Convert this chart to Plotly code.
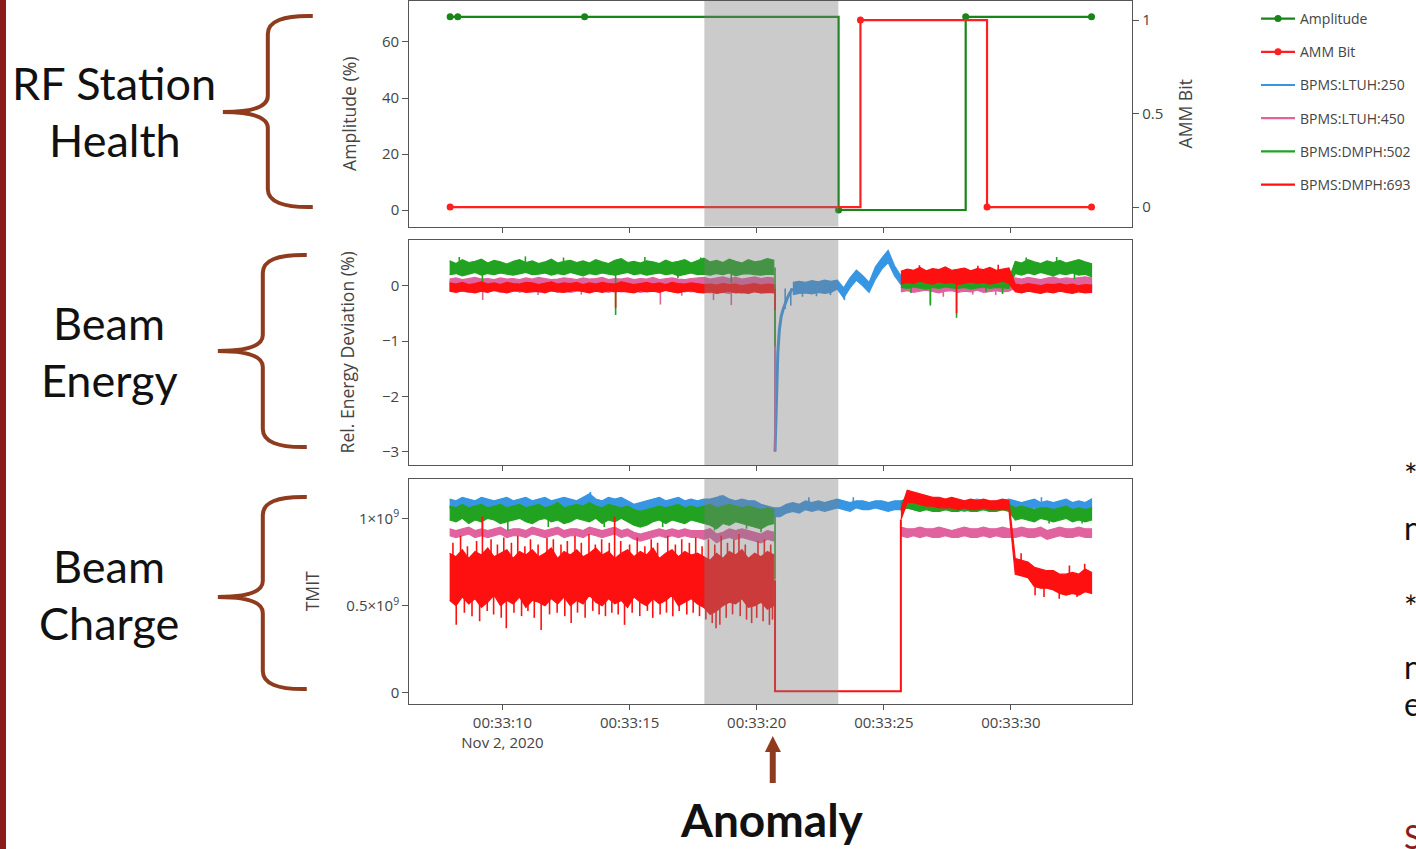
import plotly.graph_objects as go

W, H = 1416, 849

# ---------------------------------------------------------------
# Data: seconds after 2020-11-02 00:33:00
# ---------------------------------------------------------------
DAY = "2020-11-02 00:33:"

# RF station (step signals)
amp_t = [7.94, 8.24, 13.23, 23.22, 28.22, 33.17]
amp_v = [69, 69, 69, 0, 69, 69]          # Amplitude (%)
amm_t = [7.94, 24.08, 29.06, 33.17]
amm_v = [0, 1, 0, 0]                     # AMM bit

# BPM sample grid (0.25 s bins, min/max per bin)
t_grid = [round(7.92 + 0.25 * i, 2) for i in range(102)]
GAP19 = [None] * 19   # beam lost 20.92 s .. 25.42 s

# ---- relative energy deviation (%) ----
e250_lo = ([-0.08, -0.10, -0.07, -0.09, -0.11, -0.08, -0.10, -0.07, -0.09, -0.10,
            -0.08, -0.11, -0.09, -0.07, -0.10, -0.08, -0.09, -0.11, -0.08, -0.10,
            -0.07, -0.09, -0.10, -0.08, -0.11, -0.09, -0.07, -0.10, -0.08, -0.09,
            -0.11, -0.08, -0.10, -0.07, -0.09, -0.10, -0.08, -0.11, -0.09, -0.08,
            -0.10, -0.12, -0.09, -0.11, -0.13, -0.10, -0.12, -0.11, -0.09, -0.12, -0.11, -0.10]
           + [None, None]
           + [-0.16, -0.14, -0.13, -0.15, -0.12, -0.14, -0.12, -0.06, -0.22, -0.04,
              0.10, 0.00, -0.12, 0.12, 0.30, 0.42, 0.18]
           + [0.02, -0.02, 0.00, -0.03, -0.01, 0.01, -0.02, 0.00, -0.03, -0.01,
              0.01, -0.02, 0.00, -0.01, -0.03, 0.00, -0.02, -0.01]
           + [-0.08, -0.10, -0.07, -0.09, -0.11, -0.08, -0.10, -0.07, -0.09, -0.10,
              -0.08, -0.09, -0.10])
e250_hi = ([0.08, 0.10, 0.07, 0.09, 0.11, 0.08, 0.10, 0.09, 0.07, 0.10,
            0.09, 0.08, 0.11, 0.09, 0.07, 0.10, 0.08, 0.09, 0.11, 0.08,
            0.10, 0.07, 0.09, 0.10, 0.08, 0.11, 0.09, 0.07, 0.10, 0.08,
            0.09, 0.11, 0.08, 0.10, 0.07, 0.09, 0.10, 0.08, 0.11, 0.09,
            0.08, 0.10, 0.07, 0.09, 0.08, 0.10, 0.07, 0.09, 0.08, 0.06, 0.08, 0.07]
           + [None, None]
           + [0.06, 0.08, 0.06, 0.09, 0.07, 0.10, 0.08, 0.10, -0.04, 0.14,
              0.28, 0.18, 0.06, 0.34, 0.50, 0.64, 0.36]
           + [0.18, 0.14, 0.16, 0.13, 0.15, 0.17, 0.14, 0.16, 0.13, 0.15,
              0.17, 0.14, 0.16, 0.15, 0.13, 0.16, 0.14, 0.15]
           + [0.08, 0.10, 0.07, 0.09, 0.11, 0.08, 0.10, 0.09, 0.07, 0.10,
              0.09, 0.08, 0.07])
e250_spike_t = [20.72, 21.12, 21.34, 21.80, 22.35, 22.90, 23.45]
e250_spike_v = [-3.00, -0.42, -0.36, -0.20, -0.19, -0.17, -0.26]
# recovery of the upstream BPM right after the trip
e250_rec_t = [20.72, 20.75, 20.79, 20.83, 20.89, 20.96, 21.03, 21.09, 21.19, 21.29, 21.42]
e250_rec_v = [-3.00, -2.50, -1.83, -1.22, -0.80, -0.56, -0.44, -0.35, -0.24, -0.14, -0.05]

e450_lo = ([-0.09, -0.11, -0.10, -0.12, -0.08, -0.10, -0.11, -0.09, -0.12, -0.10,
            -0.08, -0.11, -0.10, -0.09, -0.12, -0.10, -0.08, -0.11, -0.09, -0.12,
            -0.10, -0.09, -0.11, -0.08, -0.10, -0.12, -0.09, -0.11, -0.10, -0.08,
            -0.12, -0.10, -0.09, -0.11, -0.08, -0.10, -0.12, -0.09, -0.11, -0.10,
            -0.11, -0.13, -0.10, -0.12, -0.14, -0.11, -0.13, -0.12, -0.10, -0.13, -0.12, -0.11]
           + GAP19
           + [-0.11, -0.09, -0.12, -0.10, -0.08, -0.11, -0.13, -0.10, -0.09, -0.12,
              -0.10, -0.11, -0.08, -0.12, -0.10, -0.09, -0.11, -0.10]
           + [-0.04, -0.06, -0.03, -0.05, -0.07, -0.04, -0.06, -0.03, -0.05, -0.04,
              -0.06, -0.03, -0.05])
e450_hi = ([0.12, 0.14, 0.11, 0.13, 0.15, 0.12, 0.13, 0.11, 0.14, 0.12,
            0.13, 0.11, 0.14, 0.12, 0.15, 0.13, 0.11, 0.12, 0.14, 0.13,
            0.11, 0.14, 0.12, 0.13, 0.15, 0.11, 0.13, 0.12, 0.14, 0.11,
            0.13, 0.12, 0.15, 0.11, 0.13, 0.14, 0.12, 0.11, 0.13, 0.14,
            0.15, 0.12, 0.14, 0.16, 0.13, 0.15, 0.12, 0.14, 0.16, 0.13, 0.15, 0.14]
           + GAP19
           + [0.10, 0.12, 0.09, 0.11, 0.13, 0.10, 0.12, 0.09, 0.11, 0.10,
              0.12, 0.09, 0.11, 0.13, 0.10, 0.12, 0.11, 0.09]
           + [0.14, 0.12, 0.15, 0.13, 0.11, 0.14, 0.16, 0.12, 0.14, 0.13,
              0.15, 0.16, 0.14])
e450_spike_t = [9.22, 11.40, 13.10, 16.21, 17.05, 18.30, 19.00, 20.72, 26.83, 27.34, 28.50, 29.40]
e450_spike_v = [-0.26, -0.17, -0.16, -0.34, -0.18, -0.26, -0.35, -3.00, -0.33, -0.20, -0.16, -0.17]

e502_lo = ([0.20, 0.22, 0.18, 0.21, 0.24, 0.19, 0.22, 0.20, 0.23, 0.21,
            0.19, 0.22, 0.24, 0.20, 0.21, 0.23, 0.19, 0.22, 0.20, 0.24,
            0.21, 0.18, 0.22, 0.20, 0.23, 0.21, 0.19, 0.22, 0.24, 0.20,
            0.22, 0.19, 0.21, 0.23, 0.20, 0.22, 0.18, 0.21, 0.23, 0.20,
            0.21, 0.19, 0.22, 0.20, 0.23, 0.18, 0.21, 0.22, 0.20, 0.19, 0.21, 0.20]
           + GAP19
           + [-0.03, -0.05, -0.02, -0.04, -0.06, -0.03, -0.05, -0.02, -0.04, -0.05,
              -0.03, -0.06, -0.04, -0.02, -0.05, -0.03, -0.04, -0.05]
           + [0.22, 0.19, 0.23, 0.20, 0.24, 0.21, 0.18, 0.22, 0.20, 0.23,
              0.19, 0.21, 0.16])
e502_hi = ([0.45, 0.40, 0.47, 0.42, 0.44, 0.48, 0.41, 0.46, 0.43, 0.39,
            0.44, 0.47, 0.42, 0.45, 0.40, 0.43, 0.48, 0.41, 0.44, 0.46,
            0.42, 0.45, 0.41, 0.47, 0.43, 0.40, 0.46, 0.49, 0.42, 0.44,
            0.41, 0.45, 0.43, 0.40, 0.46, 0.42, 0.44, 0.47, 0.41, 0.45,
            0.50, 0.43, 0.46, 0.42, 0.48, 0.44, 0.41, 0.47, 0.43, 0.45, 0.49, 0.46]
           + GAP19
           + [0.10, 0.12, 0.09, 0.13, 0.11, 0.08, 0.12, 0.10, 0.13, 0.09,
              0.11, 0.12, 0.10, 0.08, 0.12, 0.11, 0.09, 0.12]
           + [0.44, 0.41, 0.47, 0.43, 0.40, 0.45, 0.42, 0.46, 0.41, 0.44,
              0.47, 0.43, 0.40])
e502_spike_t = [8.30, 9.21, 10.90, 12.40, 14.45, 15.60, 16.90, 17.80, 19.00, 20.72,
                26.07, 26.83, 27.86, 29.02, 29.67, 30.60, 31.80, 32.50]
e502_spike_v = [0.52, 0.03, 0.53, 0.51, -0.53, 0.52, 0.14, 0.51, 0.05, -1.10,
                -0.13, -0.36, -0.58, -0.12, -0.15, 0.51, 0.52, 0.12]

e693_lo = ([-0.10, -0.12, -0.09, -0.11, -0.13, -0.10, -0.12, -0.08, -0.11, -0.13,
            -0.10, -0.09, -0.12, -0.11, -0.10, -0.13, -0.09, -0.11, -0.12, -0.10,
            -0.08, -0.11, -0.13, -0.10, -0.12, -0.09, -0.11, -0.10, -0.12, -0.13,
            -0.09, -0.11, -0.10, -0.12, -0.08, -0.11, -0.13, -0.10, -0.09, -0.12,
            -0.13, -0.11, -0.14, -0.12, -0.10, -0.13, -0.12, -0.14, -0.11, -0.13, -0.12, -0.13]
           + GAP19
           + [0.03, 0.06, 0.04, 0.08, 0.05, 0.03, 0.07, 0.04, 0.06, 0.02,
              0.05, 0.07, 0.04, 0.06, 0.03, 0.05, 0.08, 0.04]
           + [-0.11, -0.13, -0.10, -0.12, -0.14, -0.11, -0.13, -0.10, -0.12, -0.14,
              -0.11, -0.13, -0.12])
e693_hi = ([0.05, 0.03, 0.06, 0.02, 0.04, 0.07, 0.03, 0.05, 0.02, 0.06,
            0.04, 0.03, 0.06, 0.05, 0.02, 0.04, 0.07, 0.03, 0.05, 0.04,
            0.06, 0.02, 0.05, 0.03, 0.06, 0.04, 0.03, 0.07, 0.05, 0.02,
            0.04, 0.06, 0.03, 0.05, 0.02, 0.06, 0.04, 0.03, 0.05, 0.04,
            0.02, 0.03, 0.01, 0.04, 0.02, 0.03, 0.00, 0.02, 0.04, 0.01, 0.03, 0.02]
           + GAP19
           + [0.26, 0.30, 0.28, 0.33, 0.27, 0.31, 0.29, 0.34, 0.28, 0.30,
              0.32, 0.27, 0.31, 0.29, 0.33, 0.28, 0.30, 0.32]
           + [0.03, 0.01, 0.04, 0.02, 0.00, 0.03, 0.02, 0.04, 0.01, 0.03,
              0.00, 0.02, 0.01])
e693_spike_t = [14.45, 20.72, 26.40, 27.86, 28.70, 29.50]
e693_spike_v = [-0.40, -0.44, 0.37, -0.50, 0.36, 0.38]

# ---- TMIT (units of 1e9 particles) ----
TMIT_UNIT = 1e9
q250_lo = ([1.06, 1.05, 1.07, 1.06, 1.05, 1.07, 1.06, 1.06, 1.05, 1.07,
            1.06, 1.05, 1.06, 1.07, 1.05, 1.06, 1.07, 1.05, 1.06, 1.06,
            1.07, 1.06, 1.08, 1.06, 1.05, 1.07, 1.06, 1.05, 1.06, 1.04,
            1.04, 1.05, 1.06, 1.07, 1.05, 1.06, 1.07, 1.06, 1.05, 1.06,
            1.06, 1.05, 1.06, 1.07, 1.05, 1.04, 1.06, 1.05, 1.04, 1.03, 1.02, 1.01]
           + [1.01, 1.03, 1.04, 1.03, 1.05, 1.04, 1.05, 1.04, 1.05, 1.06,
              1.05, 1.04, 1.06, 1.05, 1.05, 1.06, 1.05, 1.04, 1.05]
           + [1.05, 1.06, 1.05, 1.04, 1.06, 1.05, 1.04, 1.05, 1.06, 1.05,
              1.04, 1.05, 1.06, 1.05, 1.04, 1.05, 1.05, 1.06]
           + [1.05, 1.04, 1.05, 1.06, 1.04, 1.05, 1.04, 1.05, 1.06, 1.04,
              1.05, 1.04, 1.05])
q250_hi = ([1.11, 1.10, 1.12, 1.11, 1.10, 1.12, 1.11, 1.10, 1.11, 1.12,
            1.10, 1.11, 1.12, 1.10, 1.11, 1.12, 1.10, 1.11, 1.12, 1.11,
            1.10, 1.12, 1.14, 1.11, 1.10, 1.12, 1.11, 1.12, 1.10, 1.08,
            1.09, 1.10, 1.11, 1.12, 1.10, 1.11, 1.12, 1.10, 1.11, 1.10,
            1.11, 1.11, 1.12, 1.13, 1.11, 1.10, 1.11, 1.10, 1.10, 1.08, 1.07, 1.06]
           + [1.06, 1.08, 1.09, 1.08, 1.10, 1.09, 1.10, 1.09, 1.10, 1.11,
              1.10, 1.09, 1.10, 1.10, 1.09, 1.10, 1.10, 1.09, 1.10]
           + [1.10, 1.11, 1.10, 1.09, 1.11, 1.10, 1.09, 1.10, 1.11, 1.10,
              1.09, 1.10, 1.11, 1.10, 1.09, 1.10, 1.10, 1.11]
           + [1.10, 1.09, 1.10, 1.11, 1.09, 1.10, 1.09, 1.10, 1.11, 1.09,
              1.10, 1.09, 1.11])
q250_spike_t = [13.46, 18.55, 22.05, 23.80, 27.10, 31.20]
q250_spike_v = [1.15, 1.13, 1.12, 1.12, 1.12, 1.12]

q450_lo = ([0.90, 0.89, 0.90, 0.91, 0.89, 0.90, 0.89, 0.90, 0.91, 0.89,
            0.90, 0.90, 0.89, 0.91, 0.90, 0.89, 0.90, 0.91, 0.89, 0.90,
            0.90, 0.89, 0.91, 0.90, 0.89, 0.90, 0.91, 0.89, 0.90, 0.88,
            0.87, 0.88, 0.89, 0.90, 0.89, 0.90, 0.89, 0.90, 0.89, 0.89,
            0.88, 0.89, 0.86, 0.88, 0.89, 0.88, 0.89, 0.88, 0.87, 0.86, 0.88, 0.87]
           + GAP19
           + [0.90, 0.89, 0.90, 0.89, 0.90, 0.89, 0.89, 0.90, 0.89, 0.89,
              0.90, 0.89, 0.89, 0.90, 0.89, 0.90, 0.89, 0.89]
           + [0.89, 0.90, 0.89, 0.89, 0.90, 0.88, 0.89, 0.90, 0.89, 0.89,
              0.90, 0.89, 0.89])
q450_hi = ([0.94, 0.93, 0.94, 0.95, 0.93, 0.94, 0.93, 0.94, 0.95, 0.93,
            0.94, 0.94, 0.93, 0.95, 0.94, 0.93, 0.94, 0.95, 0.93, 0.94,
            0.94, 0.93, 0.95, 0.94, 0.93, 0.94, 0.95, 0.93, 0.94, 0.92,
            0.91, 0.92, 0.93, 0.94, 0.93, 0.94, 0.93, 0.94, 0.93, 0.93,
            0.93, 0.94, 0.91, 0.92, 0.94, 0.93, 0.94, 0.93, 0.92, 0.91, 0.93, 0.92]
           + GAP19
           + [0.95, 0.94, 0.94, 0.95, 0.94, 0.94, 0.95, 0.94, 0.93, 0.94,
              0.95, 0.94, 0.94, 0.95, 0.94, 0.94, 0.95, 0.94]
           + [0.94, 0.95, 0.94, 0.94, 0.95, 0.93, 0.94, 0.95, 0.94, 0.94,
              0.95, 0.94, 0.94])

q502_lo = ([0.99, 0.98, 1.00, 0.97, 0.99, 0.98, 1.00, 0.99, 0.97, 0.98,
            0.99, 1.00, 0.98, 0.97, 0.99, 1.00, 0.98, 0.99, 0.97, 0.98,
            1.00, 0.99, 0.98, 1.00, 0.97, 0.99, 0.98, 1.00, 0.98, 0.96,
            0.95, 0.96, 0.98, 0.99, 0.97, 0.99, 0.98, 0.97, 0.99, 0.98,
            0.97, 0.96, 0.94, 0.97, 0.96, 0.98, 0.97, 0.96, 0.95, 0.94, 0.96, 0.97]
           + GAP19
           + [1.04, 1.06, 1.05, 1.04, 1.05, 1.04, 1.04, 1.05, 1.04, 1.04,
              1.05, 1.04, 1.04, 1.05, 1.04, 1.04, 1.05, 1.04]
           + [0.99, 1.00, 0.99, 0.98, 1.00, 0.99, 0.98, 0.99, 1.00, 0.98,
              0.99, 0.98, 0.99])
q502_hi = ([1.07, 1.06, 1.08, 1.06, 1.07, 1.08, 1.06, 1.07, 1.08, 1.06,
            1.07, 1.08, 1.06, 1.07, 1.08, 1.06, 1.07, 1.09, 1.06, 1.07,
            1.08, 1.07, 1.09, 1.07, 1.06, 1.08, 1.07, 1.06, 1.07, 1.05,
            1.04, 1.05, 1.06, 1.07, 1.06, 1.07, 1.08, 1.06, 1.07, 1.06,
            1.07, 1.08, 1.06, 1.07, 1.08, 1.07, 1.06, 1.07, 1.06, 1.05, 1.06, 1.05]
           + GAP19
           + [1.09, 1.12, 1.10, 1.09, 1.08, 1.08, 1.08, 1.09, 1.08, 1.08,
              1.09, 1.08, 1.08, 1.09, 1.08, 1.08, 1.09, 1.08]
           + [1.06, 1.07, 1.06, 1.05, 1.06, 1.06, 1.05, 1.06, 1.07, 1.05,
              1.06, 1.05, 1.06])
q502_spike_t = [9.21, 10.21, 11.80, 14.00, 16.30, 18.34, 19.60, 20.17, 20.72, 31.50, 32.80]
q502_spike_v = [0.94, 0.93, 0.95, 0.95, 0.95, 0.93, 0.94, 0.92, 0.65, 0.97, 0.97]

q693_lo = ([0.53, 0.50, 0.55, 0.51, 0.54, 0.49, 0.52, 0.56, 0.50, 0.53,
            0.51, 0.55, 0.49, 0.53, 0.52, 0.50, 0.54, 0.51, 0.55, 0.50,
            0.53, 0.51, 0.56, 0.52, 0.50, 0.54, 0.51, 0.53, 0.49, 0.55,
            0.52, 0.50, 0.54, 0.51, 0.53, 0.56, 0.50, 0.52, 0.54, 0.51,
            0.49, 0.45, 0.47, 0.50, 0.52, 0.51, 0.54, 0.49, 0.50, 0.52, 0.48, 0.50]
           + GAP19
           + [0.99, 1.09, 1.09, 1.08, 1.07, 1.07, 1.06, 1.06, 1.06, 1.05,
              1.06, 1.05, 1.05, 1.06, 1.05, 1.05, 1.05, 1.05]
           + [0.68, 0.67, 0.66, 0.61, 0.60, 0.60, 0.59, 0.57, 0.56, 0.57,
              0.56, 0.58, 0.57])
q693_hi = ([0.80, 0.78, 0.82, 0.77, 0.81, 0.79, 0.83, 0.78, 0.80, 0.82,
            0.77, 0.81, 0.79, 0.82, 0.78, 0.80, 0.83, 0.77, 0.81, 0.79,
            0.82, 0.78, 0.80, 0.83, 0.79, 0.81, 0.77, 0.80, 0.82, 0.78,
            0.81, 0.79, 0.83, 0.77, 0.80, 0.82, 0.78, 0.81, 0.79, 0.80,
            0.78, 0.76, 0.80, 0.77, 0.81, 0.79, 0.82, 0.77, 0.80, 0.78, 0.81, 0.79]
           + GAP19
           + [1.05, 1.16, 1.15, 1.14, 1.13, 1.12, 1.12, 1.11, 1.12, 1.11,
              1.10, 1.11, 1.10, 1.11, 1.10, 1.10, 1.11, 1.10]
           + [0.77, 0.76, 0.75, 0.72, 0.71, 0.70, 0.70, 0.68, 0.68, 0.69,
              0.68, 0.71, 0.69])
# single-shot excursions of the noisy DMPH:693 charge reading
q693_spike_t = [8.05, 8.18, 8.35, 8.50, 8.62, 8.80, 8.98, 9.10, 9.21, 9.40,
                9.55, 9.65, 9.80, 9.95, 10.05, 10.15, 10.35, 10.45, 10.60, 10.75,
                10.88, 11.00, 11.10, 11.25, 11.40, 11.52, 11.75, 11.85, 12.00, 12.15,
                12.30, 12.45, 12.55, 12.70, 12.85, 12.95, 13.10, 13.25, 13.40, 13.55,
                13.65, 13.80, 13.90, 14.05, 14.20, 14.30, 14.41, 14.55, 14.65, 14.80,
                15.00, 15.10, 15.30, 15.40, 15.60, 15.70, 15.85, 15.91, 16.10, 16.20,
                16.45, 16.50, 16.70, 16.80, 16.95, 17.05, 17.25, 17.35, 17.50, 17.60,
                17.75, 17.85, 18.00, 18.10, 18.25, 18.35, 18.40, 18.55, 18.60, 18.80,
                18.85, 19.05, 19.10, 19.30, 19.35, 19.55, 19.60, 19.80, 20.00, 20.05,
                20.25, 20.30, 20.50, 20.55, 20.62,
                30.40, 30.95, 31.30, 31.90, 32.30, 32.60, 32.90]
q693_spike_v = [0.86, 0.39, 0.90, 0.46, 0.84, 0.44, 0.87, 0.41, 1.01, 0.47,
                0.88, 0.45, 0.85, 0.43, 0.89, 0.37, 0.86, 0.46, 0.90, 0.44,
                0.84, 0.47, 0.88, 0.43, 0.85, 0.36, 0.89, 0.45, 0.88, 0.46,
                0.85, 0.44, 0.87, 0.40, 0.90, 0.46, 0.86, 0.43, 0.91, 0.47,
                0.85, 0.45, 0.88, 0.44, 0.86, 0.46, 1.01, 0.45, 0.87, 0.39,
                0.85, 0.46, 0.89, 0.44, 0.84, 0.47, 0.88, 0.43, 0.86, 0.45,
                0.46, 0.90, 0.44, 0.85, 0.47, 0.88, 0.45, 0.86, 0.46, 0.89,
                0.44, 0.84, 0.42, 0.88, 0.40, 0.85, 0.37, 0.39, 0.90, 0.43,
                0.86, 0.45, 0.88, 0.91, 0.44, 0.85, 0.42, 0.40, 0.43, 0.87,
                0.41, 0.88, 0.39, 0.85, 0.42,
                0.80, 0.56, 0.55, 0.54, 0.73, 0.55, 0.74]
# charge reading while the beam was off
q693_lost_t = [20.72, 25.67]
q693_lost_v = [0.01, 0.01]

anomaly_window = [17.94, 23.21]

# ---------------------------------------------------------------
# Styling
# ---------------------------------------------------------------
C_AMP, C_AMM = "#178517", "#ff1f1f"
C250, C450, C502, C693 = "#3796e3", "#e0629f", "#21a321", "#ff1010"
BROWN = "#8e3b1e"
FONT = '"Open Sans", verdana, arial, sans-serif'
SLIDE_FONT = "Lato"
TICK_FONT = dict(size=15, color="#444")
TITLE_FONT = dict(size=17.6, color="#444")


def stamp(s):
    return DAY + f"{s:06.3f}"


def band(t, lo, hi, color, xa, ya, group, scale=1.0):
    xs, ys = [], []
    i, n = 0, len(t)
    while i < n:
        if lo[i] is None:
            i += 1
            continue
        j = i
        while j < n and lo[j] is not None:
            j += 1
        seg = list(range(i, j))
        xs += [stamp(t[k]) for k in seg] + [stamp(t[k]) for k in reversed(seg)] + [None]
        ys += [hi[k] * scale for k in seg] + [lo[k] * scale for k in reversed(seg)] + [None]
        i = j
    return go.Scatter(x=xs, y=ys, mode="lines", fill="toself", fillcolor=color,
                      line=dict(color=color, width=1.2), xaxis=xa, yaxis=ya,
                      legendgroup=group, showlegend=False, hoverinfo="skip")


def mid_at(t, lo, hi, s):
    k = min((k for k in range(len(t)) if lo[k] is not None), key=lambda k: abs(t[k] - s))
    return (lo[k] + hi[k]) / 2


def spikes(t, lo, hi, st, sv, color, xa, ya, group, scale=1.0):
    xs, ys = [], []
    for s, v in zip(st, sv):
        xs += [stamp(s), stamp(s), None]
        ys += [mid_at(t, lo, hi, s) * scale, v * scale, None]
    return go.Scatter(x=xs, y=ys, mode="lines", line=dict(color=color, width=1.6),
                      xaxis=xa, yaxis=ya, legendgroup=group, showlegend=False,
                      hoverinfo="skip")


fig = go.Figure()

# --- RF station health ---
fig.add_trace(go.Scatter(x=[stamp(s) for s in amp_t], y=amp_v, name="Amplitude",
                         mode="lines+markers", line=dict(color=C_AMP, width=2.2, shape="hv"),
                         marker=dict(size=7, color=C_AMP), xaxis="x", yaxis="y",
                         legendgroup="amp"))
fig.add_trace(go.Scatter(x=[stamp(s) for s in amm_t], y=amm_v, name="AMM Bit",
                         mode="lines+markers", line=dict(color=C_AMM, width=2.2, shape="hv"),
                         marker=dict(size=7, color=C_AMM), xaxis="x", yaxis="y4",
                         legendgroup="amm"))

# --- BPM legend entries ---
for name, col, grp in [("BPMS:LTUH:250", C250, "b250"), ("BPMS:LTUH:450", C450, "b450"),
                       ("BPMS:DMPH:502", C502, "b502"), ("BPMS:DMPH:693", C693, "b693")]:
    fig.add_trace(go.Scatter(x=[None], y=[None], mode="lines", name=name,
                             line=dict(color=col, width=2.2), xaxis="x2", yaxis="y2",
                             legendgroup=grp))

# --- energy deviation ---
fig.add_trace(band(t_grid, e250_lo, e250_hi, C250, "x2", "y2", "b250"))
fig.add_trace(spikes(t_grid, e250_lo, e250_hi, e250_spike_t, e250_spike_v, C250, "x2", "y2", "b250"))
fig.add_trace(go.Scatter(x=[stamp(s) for s in e250_rec_t], y=e250_rec_v, mode="lines",
                         line=dict(color=C250, width=3), xaxis="x2", yaxis="y2",
                         legendgroup="b250", showlegend=False, hoverinfo="skip"))
fig.add_trace(band(t_grid, e450_lo, e450_hi, C450, "x2", "y2", "b450"))
fig.add_trace(spikes(t_grid, e450_lo, e450_hi, e450_spike_t, e450_spike_v, C450, "x2", "y2", "b450"))
fig.add_trace(band(t_grid, e502_lo, e502_hi, C502, "x2", "y2", "b502"))
fig.add_trace(spikes(t_grid, e502_lo, e502_hi, e502_spike_t, e502_spike_v, C502, "x2", "y2", "b502"))
fig.add_trace(band(t_grid, e693_lo, e693_hi, C693, "x2", "y2", "b693"))
fig.add_trace(spikes(t_grid, e693_lo, e693_hi, e693_spike_t, e693_spike_v, C693, "x2", "y2", "b693"))

# --- charge (TMIT) ---
U = TMIT_UNIT
fig.add_trace(band(t_grid, q250_lo, q250_hi, C250, "x3", "y3", "b250", U))
fig.add_trace(spikes(t_grid, q250_lo, q250_hi, q250_spike_t, q250_spike_v, C250, "x3", "y3", "b250", U))
fig.add_trace(band(t_grid, q450_lo, q450_hi, C450, "x3", "y3", "b450", U))
fig.add_trace(band(t_grid, q502_lo, q502_hi, C502, "x3", "y3", "b502", U))
fig.add_trace(spikes(t_grid, q502_lo, q502_hi, q502_spike_t, q502_spike_v, C502, "x3", "y3", "b502", U))
fig.add_trace(band(t_grid, q693_lo, q693_hi, C693, "x3", "y3", "b693", U))
fig.add_trace(spikes(t_grid, q693_lo, q693_hi, q693_spike_t, q693_spike_v, C693, "x3", "y3", "b693", U))
i_back = t_grid.index(25.67)
fig.add_trace(go.Scatter(
    x=[stamp(q693_lost_t[0])] * 2 + [stamp(q693_lost_t[1])] * 2,
    y=[mid_at(t_grid, q693_lo, q693_hi, q693_lost_t[0]) * U, q693_lost_v[0] * U,
       q693_lost_v[1] * U, q693_lo[i_back] * U],
    mode="lines", line=dict(color=C693, width=2), xaxis="x3", yaxis="y3",
    legendgroup="b693", showlegend=False, hoverinfo="skip"))

# ---------------------------------------------------------------
# Layout
# ---------------------------------------------------------------
XDOM = [409.5 / W, 1133 / W]


def ydom(top_px, bot_px):
    return [1 - bot_px / H, 1 - top_px / H]


axis_common = dict(showgrid=False, zeroline=False, showline=True, linecolor="#555",
                   linewidth=1, mirror=True, ticks="outside", ticklen=6, tickcolor="#555",
                   tickfont=TICK_FONT, automargin=False)
xr = [stamp(6.33), stamp(34.77)]
x_common = dict(axis_common, type="date", range=xr, dtick=5000, tick0=stamp(0.0), ticklen=5)

fig.update_layout(
    width=W, height=H, autosize=False,
    margin=dict(l=0, r=0, t=0, b=0, pad=0),
    paper_bgcolor="white", plot_bgcolor="white",
    font=dict(family=FONT, color="#444"),
    showlegend=True,
    legend=dict(x=1257 / W, y=1 - 3 / H, xanchor="left", yanchor="top",
                font=dict(size=14, color="#444"), tracegroupgap=12,
                bgcolor="rgba(0,0,0,0)", itemwidth=34),
    xaxis=dict(x_common, domain=XDOM, anchor="y", showticklabels=False),
    xaxis2=dict(x_common, domain=XDOM, anchor="y2", matches="x", showticklabels=False),
    xaxis3=dict(x_common, domain=XDOM, anchor="y3", matches="x"),
    yaxis=dict(axis_common, domain=ydom(1, 226.5), anchor="x", range=[-5.89, 74.64],
               tickvals=[0, 20, 40, 60], mirror=False,
               title=dict(text="Amplitude (%)", font=TITLE_FONT, standoff=20)),
    yaxis4=dict(axis_common, overlaying="y", side="right", anchor="x", range=[-0.104, 1.102],
                tickvals=[0, 0.5, 1], ticktext=["0", "0.5", "1"], mirror=False,
                title=dict(text="AMM Bit", font=TITLE_FONT, standoff=17)),
    yaxis2=dict(axis_common, domain=ydom(239.7, 465), anchor="x2", range=[-3.242, 0.832],
                tickvals=[-3, -2, -1, 0],
                title=dict(text="Rel. Energy Deviation (%)", font=TITLE_FONT, standoff=22)),
    yaxis3=dict(axis_common, domain=ydom(478.5, 704), anchor="x3", range=[-0.063e9, 1.2278e9],
                tickvals=[0, 0.5e9, 1e9],
                ticktext=["0", "0.5×10<sup>9</sup>", "1×10<sup>9</sup>"],
                title=dict(text="TMIT", font=TITLE_FONT, standoff=22)),
)

shapes = []
# anomaly window shading across all three panels
for ya in ["y", "y2", "y3"]:
    shapes.append(dict(type="rect", xref="x", yref=f"{ya} domain",
                       x0=stamp(anomaly_window[0]), x1=stamp(anomaly_window[1]), y0=0, y1=1,
                       fillcolor="rgb(126,126,126)", opacity=0.4, line=dict(width=0),
                       layer="above"))


def px(x, y):
    return f"{x / W:.5f},{1 - y / H:.5f}"


def brace(xv, ytop, ybot, xtip, ytip, xend):
    return ("M " + px(xend, ytop) + " Q " + px(xv, ytop - 1) + " " + px(xv, ytop + 18)
            + " L " + px(xv, ytip - 16) + " Q " + px(xv, ytip) + " " + px(xtip, ytip)
            + " Q " + px(xv, ytip) + " " + px(xv, ytip + 16)
            + " L " + px(xv, ybot - 18) + " Q " + px(xv, ybot + 1) + " " + px(xend, ybot))


for args in [(268, 16, 207, 223, 112, 313), (263, 255, 447, 218, 351, 307),
             (263, 497, 689, 218, 597, 307)]:
    shapes.append(dict(type="path", xref="paper", yref="paper", path=brace(*args),
                       line=dict(color=BROWN, width=4)))

# slide accent bar on the left edge
shapes.append(dict(type="rect", xref="paper", yref="paper", x0=0, x1=6 / W, y0=0, y1=1,
                   fillcolor="#8c1c1c", line=dict(width=0)))
# arrow pointing at the anomaly
shapes.append(dict(type="rect", xref="paper", yref="paper", x0=770.3 / W, x1=776.3 / W,
                   y0=1 - 783 / H, y1=1 - 751 / H, fillcolor=BROWN, line=dict(width=0)))
shapes.append(dict(type="path", xref="paper", yref="paper",
                   path="M " + px(765.5, 752) + " L " + px(781.5, 752) + " L " + px(773.3, 736) + " Z",
                   fillcolor=BROWN, line=dict(width=0)))
fig.update_layout(shapes=shapes)

annos = []


def label(text, x, y, size, color="#111", bold=False, anchor="center", yanchor="middle"):
    annos.append(dict(xref="paper", yref="paper", x=x / W, y=1 - y / H,
                      text=f"<b>{text}</b>" if bold else text,
                      showarrow=False, xanchor=anchor, yanchor=yanchor,
                      font=dict(family=SLIDE_FONT, size=size, color=color)))


label("RF Station", 114, 83, 45)
label("Health", 115, 140, 45)
label("Beam", 109, 323, 45)
label("Energy", 110, 380, 45)
label("Beam", 109, 566, 45)
label("Charge", 109, 623, 45)
label("Anomaly", 773, 849, 46, bold=True, yanchor="bottom")
for ch, y, col in [("*", 474, "#111"), ("n", 527, "#111"), ("*", 606, "#111"),
                   ("n", 666, "#111"), ("e", 703, "#111"), ("S", 836, "#8c1c1c")]:
    label(ch, 1403, y, 32, color=col, anchor="left")
fig.update_layout(annotations=annos)

fig.write_html("out.html")
